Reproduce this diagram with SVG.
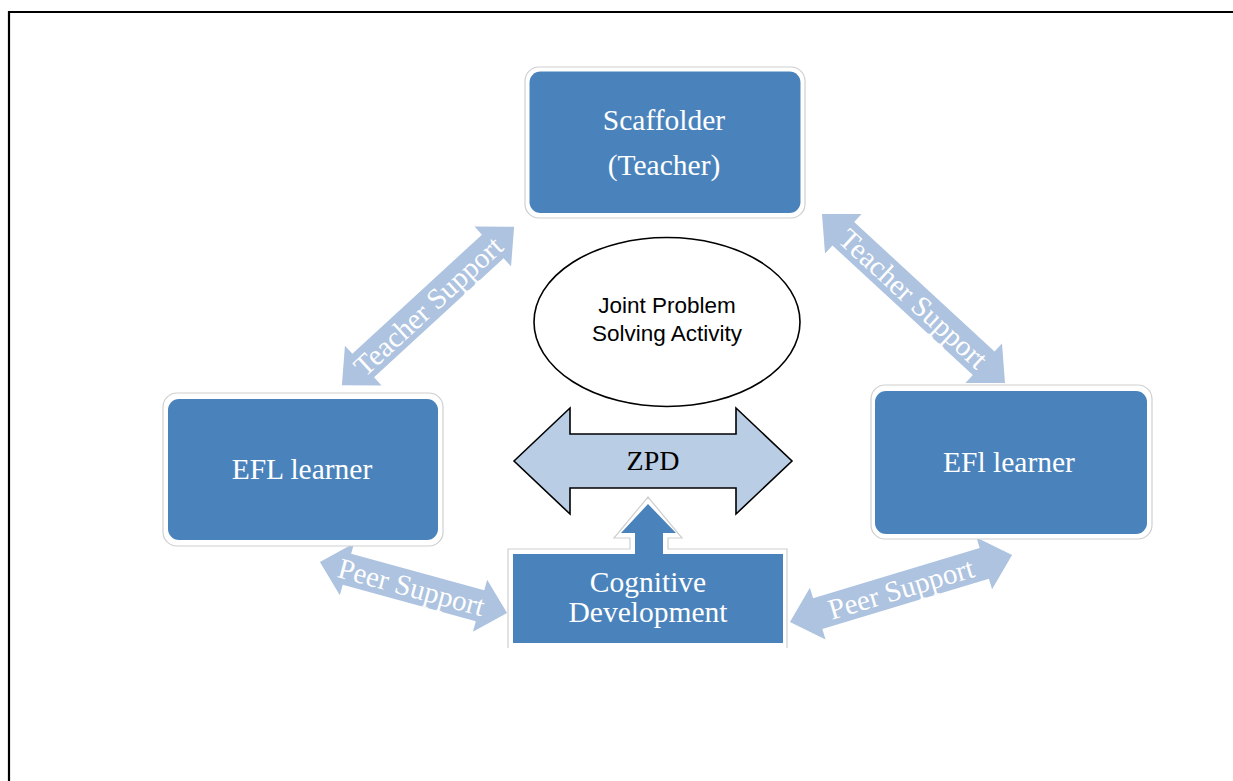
<svg xmlns="http://www.w3.org/2000/svg" width="1233" height="781" viewBox="0 0 1233 781">
  <style>
    .frame { fill: none; stroke: #000; stroke-width: 2.2; }
    .outer { fill: #fff; stroke: #cfcfcf; stroke-width: 1.2; }
    .blue { fill: #4a83bc; }
    .ntext { font-family: "Liberation Serif", "Times New Roman", serif; font-size: 29.5px; fill: #fff; text-anchor: middle; }
    .ltext { font-family: "Liberation Serif", "Times New Roman", serif; font-size: 29px; fill: #fff; text-anchor: middle; }
    .darrow { fill: #adc3df; }
    .zpd { fill: #b9cde5; stroke: #000; stroke-width: 1.6; stroke-linejoin: miter; }
    .ell { fill: #fff; stroke: #000; stroke-width: 1.6; }
    .stext { font-family: "Liberation Sans", Arial, sans-serif; font-size: 22.5px; fill: #000; text-anchor: middle; }
  </style>
  <rect width="1233" height="781" fill="#fff"/>
  <path class="frame" d="M9,781 V12 H1233"/>

  <g id="connectors">
    <g id="teacher-support-left" transform="translate(428,306) rotate(-42.6)">
      <path class="darrow" d="M-117,0 L-88,-27 L-88,-16 L88,-16 L88,-27 L117,0 L88,27 L88,16 L-88,16 L-88,27 Z"/>
      <text class="ltext" x="0" y="10">Teacher Support</text>
    </g>
    <g id="teacher-support-right" transform="translate(913.5,298.5) rotate(42.7)">
      <path class="darrow" d="M-124.5,0 L-95.5,-27 L-95.5,-16 L95.5,-16 L95.5,-27 L124.5,0 L95.5,27 L95.5,16 L-95.5,16 L-95.5,27 Z"/>
      <text class="ltext" x="0" y="10">Teacher Support</text>
    </g>
    <g id="peer-support-left" transform="translate(413.5,587.5) rotate(15.3)">
      <path class="darrow" d="M-97,0 L-69,-27 L-69,-16 L69,-16 L69,-27 L97,0 L69,27 L69,16 L-69,16 L-69,27 Z"/>
      <text class="ltext" x="-2" y="10">Peer Support</text>
    </g>
    <g id="peer-support-right" transform="translate(901,588.5) rotate(-16.8)">
      <path class="darrow" d="M-116,0 L-87,-27 L-87,-16 L87,-16 L87,-27 L116,0 L87,27 L87,16 L-87,16 L-87,27 Z"/>
      <text class="ltext" x="0" y="10">Peer Support</text>
    </g>
    <g id="zpd">
      <path class="zpd" d="M514,461 L570,408 L570,434 L736,434 L736,408 L792,461 L736,514 L736,488 L570,488 L570,514 Z"/>
      <text x="653" y="470" font-family="Liberation Serif, Times New Roman, serif" font-size="28" text-anchor="middle" fill="#000">ZPD</text>
    </g>
  </g>

  <g id="scaffolder">
    <rect class="outer" x="525" y="67" width="280" height="151" rx="14"/>
    <rect class="blue" x="529.5" y="71.5" width="271" height="141.5" rx="11"/>
    <text class="ntext" x="664" y="130">Scaffolder</text>
    <text class="ntext" x="664" y="175">(Teacher)</text>
  </g>

  <g id="joint-problem">
    <ellipse class="ell" cx="667" cy="322" rx="133" ry="84.5"/>
    <text class="stext" x="667" y="313">Joint Problem</text>
    <text class="stext" x="667" y="341">Solving Activity</text>
  </g>

  <g id="efl-learner-left">
    <rect class="outer" x="163" y="393" width="280" height="153" rx="14"/>
    <rect class="blue" x="168" y="399" width="270" height="141" rx="11"/>
    <text class="ntext" x="302" y="479">EFL learner</text>
  </g>

  <g id="efl-learner-right">
    <rect class="outer" x="871" y="385" width="281" height="154" rx="14"/>
    <rect class="blue" x="875" y="391" width="272" height="143" rx="11"/>
    <text class="ntext" x="1009" y="472">EFl learner</text>
  </g>

  <g id="cognitive-development">
    <path class="outer" d="M508,648 V549 H630 V538 H614 L648,497 L682,538 H668 V549 H787 V648"/>
    <rect class="blue" x="513" y="554" width="270" height="89"/>
    <path class="blue" d="M635,555 V533 H621 L648,504 L676,533 H663 V555 Z"/>
    <text class="ntext" x="648" y="592">Cognitive</text>
    <text class="ntext" x="648" y="622">Development</text>
  </g>
</svg>
